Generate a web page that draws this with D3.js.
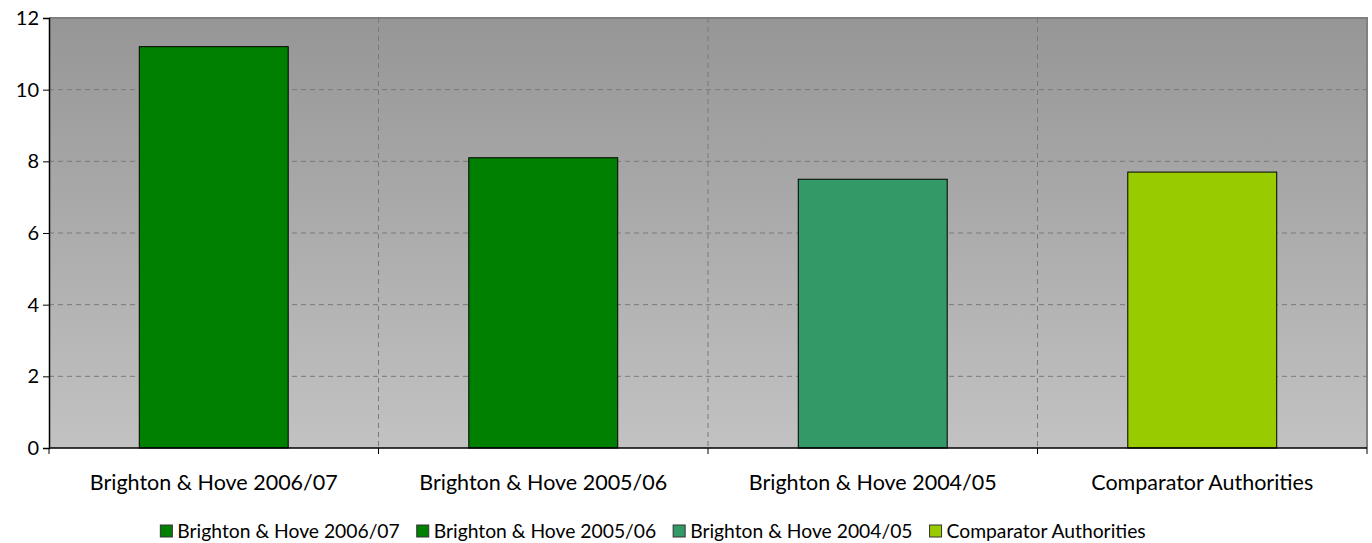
<!DOCTYPE html>
<html>
<head>
<meta charset="utf-8">
<script src="https://cdn.jsdelivr.net/npm/d3@7"></script>
<style>
  body { margin: 0; background: #fff; }
  text { font-family: "Lato", "Open Sans", sans-serif; fill: #000; }
</style>
</head>
<body>
<div id="chart"></div>
<script>
const categories = [
  "Brighton & Hove 2006/07",
  "Brighton & Hove 2005/06",
  "Brighton & Hove 2004/05",
  "Comparator Authorities",
];
const values = [11.2, 8.1, 7.5, 7.7];
const colors = ["#008000", "#008000", "#339966", "#99cc00"];
const yTicks = [0, 2, 4, 6, 8, 10, 12];

const width = 1372, height = 543;
const plotLeft = 49, plotRight = 1367, plotTop = 18, plotBottom = 448;

const svg = d3.select("#chart").append("svg")
  .attr("width", width).attr("height", height);

// background gradient
const grad = svg.append("defs").append("linearGradient")
  .attr("id", "bg").attr("x1", 0).attr("y1", 0).attr("x2", 0).attr("y2", 1);
grad.append("stop").attr("offset", "0%").attr("stop-color", "#969696");
grad.append("stop").attr("offset", "100%").attr("stop-color", "#c2c2c2");

const x = d3.scaleBand().domain(categories).range([plotLeft, plotRight]).paddingInner(0).paddingOuter(0);
const y = d3.scaleLinear().domain([0, 12]).range([plotBottom, plotTop]);

svg.append("rect")
  .attr("x", plotLeft).attr("y", plotTop)
  .attr("width", plotRight - plotLeft).attr("height", plotBottom - plotTop)
  .attr("fill", "url(#bg)");

// frame top + right
svg.append("path")
  .attr("d", `M${plotLeft},${plotTop}H${plotRight}V${plotBottom}`)
  .attr("fill", "none").attr("stroke", "#808080").attr("stroke-width", 2);

// grid lines
svg.append("g").selectAll("line")
  .data(yTicks.filter((d) => d > 0 && d < 12))
  .join("line")
  .attr("x1", plotLeft).attr("x2", plotRight)
  .attr("y1", (d) => y(d)).attr("y2", (d) => y(d))
  .attr("stroke", "#7a7a7a").attr("stroke-dasharray", "5,4");

svg.append("g").selectAll("line")
  .data(categories.slice(1))
  .join("line")
  .attr("x1", (d) => x(d)).attr("x2", (d) => x(d))
  .attr("y1", plotTop).attr("y2", plotBottom)
  .attr("stroke", "#7a7a7a").attr("stroke-dasharray", "5,4");

// bars
const barW = x.bandwidth() * 0.452;
svg.append("g").selectAll("rect")
  .data(values)
  .join("rect")
  .attr("x", (d, i) => x(categories[i]) + (x.bandwidth() - barW) / 2)
  .attr("y", (d) => y(d))
  .attr("width", barW)
  .attr("height", (d) => plotBottom - y(d))
  .attr("fill", (d, i) => colors[i])
  .attr("stroke", "#000").attr("stroke-width", 1);

// y axis
const yAxis = svg.append("g")
  .attr("transform", `translate(${plotLeft},0)`)
  .call(d3.axisLeft(y).tickValues(yTicks).tickSize(6).tickPadding(4).tickFormat(d3.format("d")));
yAxis.select(".domain").attr("stroke", "#000").attr("stroke-width", 1.5);
yAxis.selectAll("text").style("font-size", "20px").attr("font-family", null);

// x axis
const xAxis = svg.append("g").attr("transform", `translate(0,${plotBottom})`);
xAxis.append("line").attr("x1", plotLeft).attr("x2", plotRight)
  .attr("stroke", "#000").attr("stroke-width", 1.5);
xAxis.selectAll("line.tick")
  .data(categories.concat([null]))
  .join("line")
  .attr("class", "tick")
  .attr("x1", (d) => (d ? x(d) : plotRight)).attr("x2", (d) => (d ? x(d) : plotRight))
  .attr("y1", 0).attr("y2", 6)
  .attr("stroke", "#000");
xAxis.selectAll("text")
  .data(categories)
  .join("text")
  .attr("x", (d) => x(d) + x.bandwidth() / 2)
  .attr("y", 42)
  .attr("text-anchor", "middle")
  .style("font-size", "21.5px")
  .text((d) => d);

// legend
const legend = svg.append("g").attr("transform", `translate(0,531)`);
const items = legend.selectAll("g").data(categories).join("g");
items.append("rect")
  .attr("width", 12).attr("height", 12).attr("y", -6)
  .attr("fill", (d, i) => colors[i]).attr("stroke", "#333");
items.append("text")
  .attr("x", 17).attr("y", 7)
  .style("font-size", "19.3px")
  .text((d) => d);
const gap = 17;
const widths = [];
items.each(function () { widths.push(this.getBBox().width); });
const total = d3.sum(widths) + gap * (widths.length - 1);
let pos = (width - total) / 2 - 33;
items.attr("transform", (d, i) => {
  const t = `translate(${pos},0)`;
  pos += widths[i] + gap;
  return t;
});
</script>
</body>
</html>
